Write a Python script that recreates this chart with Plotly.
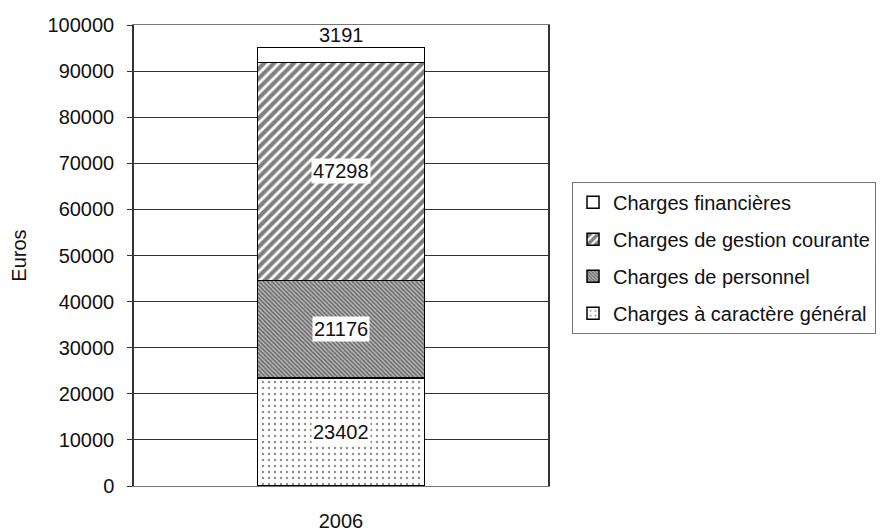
import plotly.graph_objects as go

categories = ["2006"]
series_names = ["Charges à caractère général", "Charges de personnel",
                "Charges de gestion courante", "Charges financières"]
values = {
    "Charges à caractère général": [23402],
    "Charges de personnel": [21176],
    "Charges de gestion courante": [47298],
    "Charges financières": [3191],
}
y_ticks = list(range(0, 100001, 10000))

patterns = {
    "Charges à caractère général": dict(shape=".", fgcolor="#222", bgcolor="white", size=6, solidity=0.14),
    "Charges de personnel": dict(shape="\\", fgcolor="#111", bgcolor="#bbb", size=3, solidity=0.5),
    "Charges de gestion courante": dict(shape="/", fgcolor="black", bgcolor="white", size=7, solidity=0.6),
    "Charges financières": dict(shape="", fgcolor="black", bgcolor="white"),
}
legend_rank = {
    "Charges financières": 1,
    "Charges de gestion courante": 2,
    "Charges de personnel": 3,
    "Charges à caractère général": 4,
}

fig = go.Figure()
for name in series_names:
    fig.add_trace(go.Bar(
        x=categories, y=values[name], name=name,
        legendgroup=name, legendrank=legend_rank[name],
        marker=dict(color="white", pattern=patterns[name],
                    line=dict(color="black", width=1.5)),
        width=0.404,
    ))

# labels
cum = 0
for name in series_names:
    v = values[name][0]
    if name == "Charges financières":
        fig.add_annotation(x=0, y=cum + v, text=str(v), showarrow=False,
                           yanchor="bottom", yshift=1, font=dict(size=20, color="#111"),
                           borderpad=0)
    else:
        fig.add_annotation(x=0, y=cum + v / 2, text=str(v), showarrow=False,
                           font=dict(size=20, color="#111"), bgcolor="white", borderpad=1)
    cum += v

fig.update_layout(
    barmode="stack",
    width=880, height=524,
    margin=dict(l=126, r=331, t=17, b=46),
    paper_bgcolor="white", plot_bgcolor="white",
    font=dict(family="Liberation Sans, Arial, sans-serif", size=20, color="#111"),
    showlegend=True,
    legend=dict(x=1.058, xanchor="left", y=0.66, yanchor="top",
                traceorder="grouped", tracegroupgap=8,
                bordercolor="#777", borderwidth=1, bgcolor="white",
                font=dict(size=20)),
    xaxis=dict(type="category", range=[-0.5, 0.5], automargin=False,
               showline=True, linecolor="#777", linewidth=1, mirror=True,
               ticks="", ticklabelstandoff=17, tickfont=dict(size=20)),
    yaxis=dict(range=[0, 100000], tickvals=y_ticks, tickformat="d", automargin=False,
               showgrid=True, gridcolor="#333", gridwidth=1,
               showline=True, linecolor="#333", linewidth=1.5, mirror=True,
               ticks="outside", ticklen=5, tickcolor="#333", ticklabelstandoff=9,
               zeroline=False,
               title=dict(text="Euros", font=dict(size=20), standoff=17),
               tickfont=dict(size=20)),
)

fig.write_html("out.html")
